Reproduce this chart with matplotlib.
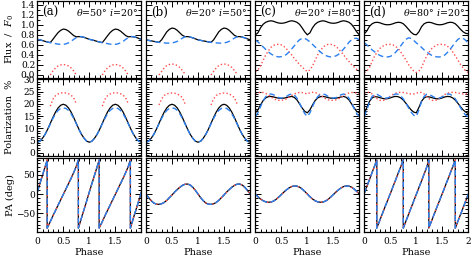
import numpy as np
import matplotlib
matplotlib.use('Agg')
from matplotlib import pyplot as plt
from matplotlib.ticker import MultipleLocator, FixedLocator, FixedFormatter

N = np.nan
phase = np.linspace(0, 2, 41)

# ---- flux / F0 ----
flux_a_k = [0.71, 0.70, 0.685, 0.67, 0.655, 0.645, 0.71, 0.78, 0.845, 0.89, 0.915, 0.905, 0.875, 0.83, 0.785, 0.76, 0.765, 0.76, 0.75, 0.73, 0.71,
            0.70, 0.685, 0.67, 0.655, 0.645, 0.71, 0.78, 0.845, 0.89, 0.915, 0.905, 0.875, 0.83, 0.785, 0.76, 0.765, 0.76, 0.75, 0.73, 0.71]
flux_a_b = [0.71, 0.70, 0.685, 0.67, 0.655, 0.645, 0.635, 0.625, 0.615, 0.61, 0.61, 0.62, 0.64, 0.67, 0.71, 0.745, 0.765, 0.765, 0.75, 0.73, 0.71,
            0.70, 0.685, 0.67, 0.655, 0.645, 0.635, 0.625, 0.615, 0.61, 0.61, 0.62, 0.64, 0.67, 0.71, 0.745, 0.765, 0.765, 0.75, 0.73, 0.71]
flux_a_r = [N, N, N, N, N, 0.0, 0.08, 0.14, 0.18, 0.20, 0.21, 0.20, 0.18, 0.14, 0.08, 0.0, N, N, N, N, N,
            N, N, N, N, 0.0, 0.08, 0.14, 0.18, 0.20, 0.21, 0.20, 0.18, 0.14, 0.08, 0.0, N, N, N, N, N]

flux_b_k = [0.70, 0.69, 0.68, 0.67, 0.66, 0.65, 0.70, 0.78, 0.86, 0.91, 0.935, 0.925, 0.89, 0.84, 0.79, 0.765, 0.765, 0.755, 0.74, 0.72, 0.70,
            0.69, 0.68, 0.67, 0.66, 0.65, 0.70, 0.78, 0.86, 0.91, 0.935, 0.925, 0.89, 0.84, 0.79, 0.765, 0.765, 0.755, 0.74, 0.72, 0.70]
flux_b_b = [0.70, 0.69, 0.68, 0.67, 0.66, 0.65, 0.645, 0.64, 0.635, 0.635, 0.64, 0.65, 0.67, 0.70, 0.735, 0.76, 0.765, 0.755, 0.74, 0.72, 0.70,
            0.69, 0.68, 0.67, 0.66, 0.65, 0.645, 0.64, 0.635, 0.635, 0.64, 0.65, 0.67, 0.70, 0.735, 0.76, 0.765, 0.755, 0.74, 0.72, 0.70]
flux_b_r = [N, N, N, N, N, 0.0, 0.07, 0.14, 0.19, 0.21, 0.22, 0.21, 0.19, 0.15, 0.09, 0.02, N, N, N, N, N,
            N, N, N, N, 0.0, 0.07, 0.14, 0.19, 0.21, 0.22, 0.21, 0.19, 0.15, 0.09, 0.02, N, N, N, N, N]

flux_c_k = [0.80, 0.84, 0.94, 1.01, 1.05, 1.07, 1.08, 1.07, 1.05, 1.035, 1.03, 1.035, 1.05, 1.07, 1.08, 1.07, 1.05, 1.01, 0.94, 0.86, 0.80,
            0.84, 0.94, 1.01, 1.05, 1.07, 1.08, 1.07, 1.05, 1.035, 1.03, 1.035, 1.05, 1.07, 1.08, 1.07, 1.05, 1.01, 0.94, 0.86, 0.80]
flux_c_b = [0.70, 0.66, 0.61, 0.56, 0.51, 0.46, 0.42, 0.39, 0.37, 0.36, 0.365, 0.38, 0.41, 0.46, 0.52, 0.58, 0.65, 0.70, 0.73, 0.73, 0.70,
            0.66, 0.61, 0.56, 0.51, 0.46, 0.42, 0.39, 0.37, 0.36, 0.365, 0.38, 0.41, 0.46, 0.52, 0.58, 0.65, 0.70, 0.73, 0.73, 0.70]
flux_c_r = [0.07, 0.10, 0.18, 0.29, 0.40, 0.48, 0.55, 0.59, 0.61, 0.61, 0.60, 0.57, 0.52, 0.46, 0.40, 0.33, 0.27, 0.21, 0.16, 0.11, 0.07,
            0.10, 0.18, 0.29, 0.40, 0.48, 0.55, 0.59, 0.61, 0.61, 0.60, 0.57, 0.52, 0.46, 0.40, 0.33, 0.27, 0.21, 0.16, 0.11, 0.07]

flux_d_k = [0.82, 0.88, 0.97, 1.02, 1.045, 1.05, 1.04, 1.02, 1.005, 1.0, 1.005, 1.02, 1.04, 1.05, 1.045, 1.02, 0.97, 0.91, 0.85, 0.81, 0.80,
            0.86, 0.96, 1.02, 1.045, 1.05, 1.04, 1.02, 1.005, 1.0, 1.005, 1.02, 1.04, 1.05, 1.045, 1.02, 0.97, 0.91, 0.86, 0.83, 0.82]
flux_d_b = [0.64, 0.60, 0.55, 0.50, 0.46, 0.42, 0.39, 0.37, 0.36, 0.36, 0.37, 0.40, 0.45, 0.51, 0.58, 0.65, 0.71, 0.74, 0.73, 0.69, 0.64,
            0.60, 0.55, 0.50, 0.46, 0.42, 0.39, 0.37, 0.36, 0.36, 0.37, 0.40, 0.45, 0.51, 0.58, 0.65, 0.71, 0.74, 0.73, 0.69, 0.64]
flux_d_r = [0.05, 0.08, 0.15, 0.27, 0.38, 0.46, 0.53, 0.57, 0.60, 0.61, 0.61, 0.60, 0.57, 0.53, 0.46, 0.38, 0.30, 0.21, 0.14, 0.08, 0.05,
            0.08, 0.15, 0.27, 0.38, 0.46, 0.53, 0.57, 0.60, 0.61, 0.61, 0.60, 0.57, 0.53, 0.46, 0.38, 0.30, 0.21, 0.14, 0.08, 0.05]

# ---- polarization % ----
pol_a_k = [4.3, 4.7, 5.9, 7.5, 9.6, 12.0, 14.4, 16.6, 18.3, 19.4, 19.8, 19.4, 18.3, 16.6, 14.4, 12.0, 9.6, 7.5, 5.9, 4.7, 4.3,
           4.7, 5.9, 7.5, 9.6, 12.0, 14.4, 16.6, 18.3, 19.4, 19.8, 19.4, 18.3, 16.6, 14.4, 12.0, 9.6, 7.5, 5.9, 4.7, 4.3]
pol_a_b = [4.3, 4.7, 5.9, 7.5, 9.5, 11.8, 14.0, 15.9, 17.3, 18.1, 18.3, 18.1, 17.3, 15.9, 14.0, 11.8, 9.5, 7.5, 5.9, 4.7, 4.3,
           4.7, 5.9, 7.5, 9.5, 11.8, 14.0, 15.9, 17.3, 18.1, 18.3, 18.1, 17.3, 15.9, 14.0, 11.8, 9.5, 7.5, 5.9, 4.7, 4.3]
pol_a_r = [N, N, N, N, N, 19.0, 21.8, 23.3, 24.0, 24.4, 24.5, 24.4, 24.1, 23.5, 22.4, 20.0, N, N, N, N, N,
           N, N, N, N, 19.0, 21.8, 23.3, 24.0, 24.4, 24.5, 24.4, 24.1, 23.5, 22.4, 20.0, N, N, N, N, N]

pol_b_k = [4.3, 4.7, 5.9, 7.5, 9.6, 12.0, 14.4, 16.6, 18.3, 19.4, 19.8, 19.4, 18.3, 16.6, 14.4, 12.0, 9.6, 7.5, 5.9, 4.7, 4.3,
           4.7, 5.9, 7.5, 9.6, 12.0, 14.4, 16.6, 18.3, 19.4, 19.8, 19.4, 18.3, 16.6, 14.4, 12.0, 9.6, 7.5, 5.9, 4.7, 4.3]
pol_b_b = [4.3, 4.7, 5.9, 7.5, 9.5, 11.8, 14.0, 15.9, 17.3, 18.1, 18.3, 18.1, 17.3, 15.9, 14.0, 11.8, 9.5, 7.5, 5.9, 4.7, 4.3,
           4.7, 5.9, 7.5, 9.5, 11.8, 14.0, 15.9, 17.3, 18.1, 18.3, 18.1, 17.3, 15.9, 14.0, 11.8, 9.5, 7.5, 5.9, 4.7, 4.3]
pol_b_r = [N, N, N, N, N, 19.5, 22.0, 23.4, 24.0, 24.3, 24.4, 24.3, 24.0, 23.4, 22.5, 20.0, N, N, N, N, N,
           N, N, N, N, 19.5, 22.0, 23.4, 24.0, 24.3, 24.4, 24.3, 24.0, 23.4, 22.5, 20.0, N, N, N, N, N]

pol_c_k = [16.3, 17.5, 19.5, 21.3, 22.4, 22.9, 23.0, 22.8, 22.5, 22.3, 22.2, 22.3, 22.5, 22.8, 23.0, 22.6, 21.6, 20.0, 18.3, 16.9, 16.3,
           17.5, 19.5, 21.3, 22.4, 22.9, 23.0, 22.8, 22.5, 22.3, 22.2, 22.3, 22.5, 22.8, 23.0, 22.6, 21.6, 20.0, 18.3, 16.9, 16.3]
pol_c_b = [14.8, 16.3, 18.8, 21.2, 22.9, 23.8, 24.0, 23.7, 23.0, 22.5, 22.3, 22.5, 23.0, 23.7, 24.0, 23.6, 22.3, 20.3, 18.1, 16.0, 14.8,
           16.3, 18.8, 21.2, 22.9, 23.8, 24.0, 23.7, 23.0, 22.5, 22.3, 22.5, 23.0, 23.7, 24.0, 23.6, 22.3, 20.3, 18.1, 16.0, 14.8]
pol_c_r = [24.0, 24.5, 24.7, 24.6, 24.2, 23.6, 22.8, 22.1, 21.6, 21.4, 21.4, 21.6, 22.0, 22.7, 23.4, 24.0, 24.4, 24.6, 24.6, 24.3, 24.0,
           24.5, 24.7, 24.6, 24.2, 23.6, 22.8, 22.1, 21.6, 21.4, 21.4, 21.6, 22.0, 22.7, 23.4, 24.0, 24.4, 24.6, 24.6, 24.3, 24.0]

pol_d_k = [16.0, 18.5, 21.0, 22.4, 22.9, 22.8, 22.5, 22.2, 22.0, 22.1, 22.4, 22.8, 23.0, 22.9, 22.4, 21.5, 20.2, 18.8, 17.5, 16.6, 16.3,
           18.5, 21.0, 22.4, 22.9, 22.8, 22.5, 22.2, 22.0, 22.1, 22.4, 22.8, 23.0, 22.9, 22.4, 21.5, 20.2, 18.8, 17.5, 16.6, 16.0]
pol_d_b = [14.8, 17.5, 20.8, 23.0, 23.9, 23.8, 23.2, 22.6, 22.3, 22.4, 22.8, 23.5, 24.0, 23.9, 23.2, 22.0, 20.3, 18.4, 16.6, 15.3, 14.8,
           17.5, 20.8, 23.0, 23.9, 23.8, 23.2, 22.6, 22.3, 22.4, 22.8, 23.5, 24.0, 23.9, 23.2, 22.0, 20.3, 18.4, 16.6, 15.3, 14.8]
pol_d_r = [24.3, 24.7, 24.6, 24.0, 23.0, 22.0, 21.4, 21.3, 21.6, 22.3, 23.1, 23.8, 24.3, 24.6, 24.7, 24.6, 24.4, 24.2, 24.0, 24.0, 24.3,
           24.7, 24.6, 24.0, 23.0, 22.0, 21.4, 21.3, 21.6, 22.3, 23.1, 23.8, 24.3, 24.6, 24.7, 24.6, 24.4, 24.2, 24.0, 24.0, 24.3]

# ---- position angle (deg) ----
pa_b = [0, -9.5, -17.5, -23.5, -26.5, -27, -25.5, -22, -16.5, -9.5, -2.5, 5, 11.5, 17.5, 22.5, 25.5, 26, 23.5, 17.5, 9.5, 0,
        -9.5, -17.5, -23.5, -26.5, -27, -25.5, -22, -16.5, -9.5, -2.5, 5, 11.5, 17.5, 22.5, 25.5, 26, 23.5, 17.5, 9.5, 0]
pa_c = [0, -7, -13, -17.5, -20.5, -21.5, -21, -18.5, -14, -8, -1.5, 5, 11, 16, 19.5, 21, 20.5, 18, 13, 7, 0,
        -7, -13, -17.5, -20.5, -21.5, -21, -18.5, -14, -8, -1.5, 5, 11, 16, 19.5, 21, 20.5, 18, 13, 7, 0]

# sawtooth panels: phase samples with the wrap points doubled
pa_a_phase = [0, 0.05, 0.1, 0.15, 0.19, 0.19, 0.25, 0.3, 0.35, 0.4, 0.45, 0.5, 0.55, 0.6, 0.65, 0.7, 0.75, 0.79, 0.79, 0.85, 0.9, 0.95,
              1.0, 1.05, 1.1, 1.15, 1.19, 1.19, 1.25, 1.3, 1.35, 1.4, 1.45, 1.5, 1.55, 1.6, 1.65, 1.7, 1.75, 1.79, 1.79, 1.85, 1.9, 1.95, 2.0]
pa_a = [5, 27, 49, 71, 89, -89, -72, -57, -43, -29, -15, -1, 13, 27, 41, 56, 72, 89, -89, -62, -40, -18,
        5, 27, 49, 71, 89, -89, -72, -57, -43, -29, -15, -1, 13, 27, 41, 56, 72, 89, -89, -62, -40, -18, 5]
pa_d_phase = [0, 0.1, 0.2, 0.24, 0.24, 0.3, 0.4, 0.5, 0.6, 0.7, 0.75, 0.75, 0.8, 0.9, 1.0, 1.1, 1.2, 1.24, 1.24, 1.3, 1.4,
              1.5, 1.6, 1.7, 1.75, 1.75, 1.8, 1.9, 2.0]
pa_d = [2, 38, 74, 89, -89, -68, -33, 1, 36, 71, 89, -89, -71, -36, -1, 34, 70, 89, -89, -68, -33,
        1, 36, 71, 89, -89, -71, -36, 0]

labels = ['(a)', '(b)', '(c)', '(d)']
angles = [r'$\theta$=50° $i$=20°', r'$\theta$=20° $i$=50°', r'$\theta$=20° $i$=80°', r'$\theta$=80° $i$=20°']
flux = [(flux_a_k, flux_a_b, flux_a_r), (flux_b_k, flux_b_b, flux_b_r),
        (flux_c_k, flux_c_b, flux_c_r), (flux_d_k, flux_d_b, flux_d_r)]
pol = [(pol_a_k, pol_a_b, pol_a_r), (pol_b_k, pol_b_b, pol_b_r),
       (pol_c_k, pol_c_b, pol_c_r), (pol_d_k, pol_d_b, pol_d_r)]
pa = [(pa_a_phase, pa_a), (list(phase), pa_b), (list(phase), pa_c), (pa_d_phase, pa_d)]

plt.rcParams['font.family'] = 'DejaVu Serif'
plt.rcParams['mathtext.fontset'] = 'dejavuserif'

W, H = 472, 259
fig = plt.figure(figsize=(W / 100, H / 100), dpi=100)

col_left = [37.3, 146.0, 255.3, 364.3]
col_w = 104.0
rows = [(1.0, 77.5), (79.0, 155.5), (157.5, 231.7)]
ylims = [(-0.05, 1.474), (-1.14, 30.12), (-98.4, 95.3)]

BLUE = '#2b7fef'
RED = '#ff4d4d'


def style(ax, row, col):
    ax.set_xlim(0, 2)
    ax.set_ylim(*ylims[row])
    ax.tick_params(which='both', direction='in', top=True, right=True, labelsize=6.5, width=0.7, colors='k')
    ax.tick_params(which='major', length=4)
    ax.tick_params(which='minor', length=2)
    ax.tick_params(axis='x', pad=4)
    ax.tick_params(axis='y', pad=1.5)
    ax.xaxis.set_major_locator(MultipleLocator(0.5))
    ax.xaxis.set_minor_locator(MultipleLocator(0.1))
    if row == 0:
        ax.yaxis.set_major_locator(FixedLocator([0, 0.2, 0.4, 0.6, 0.8, 1.0, 1.2, 1.4]))
        ax.yaxis.set_minor_locator(MultipleLocator(0.1))
        ax.yaxis.set_major_formatter(FixedFormatter(['0.0', '0.2', '0.4', '0.6', '0.8', '1.0', '1.2', '1.4']))
    elif row == 1:
        ax.yaxis.set_major_locator(MultipleLocator(5))
        ax.yaxis.set_minor_locator(MultipleLocator(1))
    else:
        ax.yaxis.set_major_locator(FixedLocator([-50, 0, 50]))
        ax.yaxis.set_minor_locator(MultipleLocator(10))
        ax.yaxis.set_major_formatter(FixedFormatter(['\u221250', '0', '50']))
    for s in ax.spines.values():
        s.set_linewidth(0.9)
    if col > 0:
        ax.tick_params(labelleft=False)
    if row < 2:
        ax.tick_params(labelbottom=False)
    else:
        if col < 3:
            ax.xaxis.set_major_locator(FixedLocator([0, 0.5, 1, 1.5, 2]))
            ax.xaxis.set_major_formatter(FixedFormatter(['0', '0.5', '1', '1.5', '']))
        else:
            ax.xaxis.set_major_formatter(FixedFormatter(['0', '0.5', '1', '1.5', '2']))
            ax.xaxis.set_major_locator(FixedLocator([0, 0.5, 1, 1.5, 2]))
        ax.set_xlabel('Phase', fontsize=7, labelpad=1)


for c in range(4):
    for r in range(3):
        top, bot = rows[r]
        ax = fig.add_axes([col_left[c] / W, 1 - bot / H, col_w / W, (bot - top) / H])
        style(ax, r, c)
        if r == 0:
            k, b, rd = flux[c]
        elif r == 1:
            k, b, rd = pol[c]
        if r < 2:
            ax.plot(phase, k, color='k', lw=0.9)
            ax.plot(phase, rd, color=RED, lw=1.0, ls=(0, (1, 1.6)))
            ax.plot(phase, b, color=BLUE, lw=1.0, ls=(0, (4, 2.5)))
        else:
            ph, v = pa[c]
            ax.plot(ph, v, color='k', lw=0.9)
            ax.plot(ph, v, color=RED, lw=1.0, ls=(0, (1, 1.6)))
            ax.plot(ph, v, color=BLUE, lw=1.0, ls=(0, (4, 2.5)))
        if r == 0:
            ax.text(0.05, 0.855, labels[c], transform=ax.transAxes, ha='left', va='center', fontsize=8.5)
            ax.text(0.97, 0.855, angles[c], transform=ax.transAxes, ha='right', va='center', fontsize=6.8)

fig.text(10 / W, 1 - 39 / H, r'Flux  /  $F_0$', rotation=90, ha='center', va='center', fontsize=7)
fig.text(10 / W, 1 - 117 / H, 'Polarization  %', rotation=90, ha='center', va='center', fontsize=7)
fig.text(10 / W, 1 - 195 / H, 'PA (deg)', rotation=90, ha='center', va='center', fontsize=7)

fig.savefig('out.png', dpi=100)
